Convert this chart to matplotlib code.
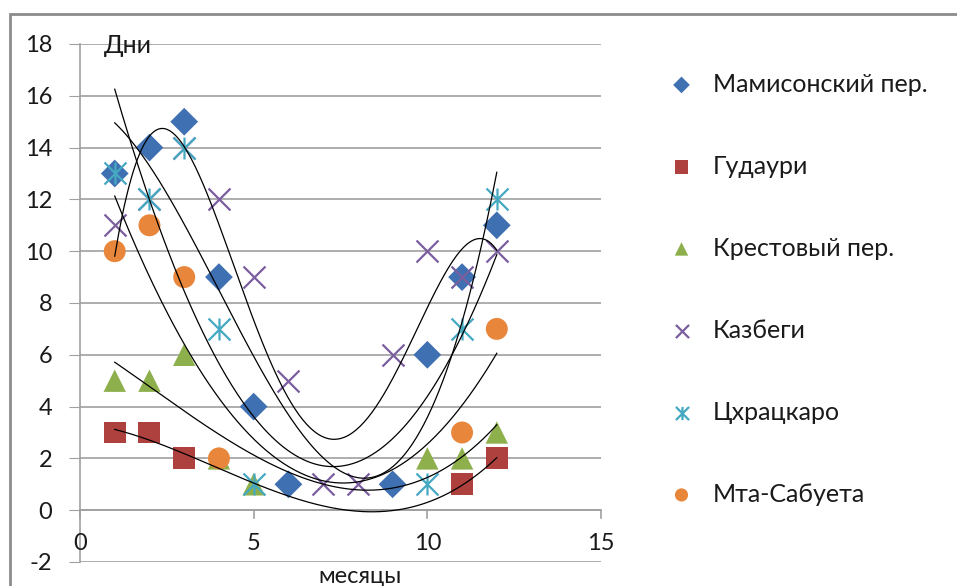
import matplotlib.pyplot as plt
import numpy as np
from matplotlib.patches import Rectangle
from matplotlib.path import Path

plt.rcParams['font.family'] = ['Lato', 'DejaVu Sans']
plt.rcParams['axes.unicode_minus'] = False

# данные: дни по месяцам
mamison_x = [1, 2, 3, 4, 5, 6, 9, 10, 11, 12]
mamison_y = [13, 14, 15, 9, 4, 1, 1, 6, 9, 11]
gudauri_x = [1, 2, 3, 11, 12]
gudauri_y = [3, 3, 2, 1, 2]
krest_x = [1, 2, 3, 4, 5, 10, 11, 12]
krest_y = [5, 5, 6, 2, 1, 2, 2, 3]
kazbegi_x = [1, 2, 3, 4, 5, 6, 7, 8, 9, 10, 11, 12]
kazbegi_y = [11, 12, 14, 12, 9, 5, 1, 1, 6, 10, 9, 10]
tshr_x = [1, 2, 3, 4, 5, 10, 11, 12]
tshr_y = [13, 12, 14, 7, 1, 1, 7, 12]
mta_x = [1, 2, 3, 4, 11, 12]
mta_y = [10, 11, 9, 2, 3, 7]

names = ['Мамисонский пер.', 'Гудаури', 'Крестовый пер.', 'Казбеги', 'Цхрацкаро', 'Мта-Сабуета']
xs = [mamison_x, gudauri_x, krest_x, kazbegi_x, tshr_x, mta_x]
ys = [mamison_y, gudauri_y, krest_y, kazbegi_y, tshr_y, mta_y]
# степень полиномиальной линии тренда для каждого ряда
orders = [3, 3, 3, 4, 2, 2]

colors = ['#3F70B2', '#AE413E', '#8DB04C', '#7A5E9E', '#45A9C2', '#E8873C']

# звёздочка как в Excel: X + вертикальная черта
star = Path([(-1, -1), (1, 1), (-1, 1), (1, -1), (0, -1), (0, 1)],
            [Path.MOVETO, Path.LINETO, Path.MOVETO, Path.LINETO, Path.MOVETO, Path.LINETO])
markers = ['D', 's', '^', 'x', star, 'o']
sizes = [200, 250, 260, 250, 250, 250]

fig = plt.figure(figsize=(9.57, 5.86), dpi=100)
ax = fig.add_axes([80/957, 1-562/586, (601-80)/957, (562-44)/586])

for i in range(6):
    if i in (3, 4):
        ax.scatter(xs[i], ys[i], marker=markers[i], s=sizes[i], color=colors[i], linewidths=1.6, label=names[i], zorder=3)
    else:
        ax.scatter(xs[i], ys[i], marker=markers[i], s=sizes[i], color=colors[i], edgecolors='none', label=names[i], zorder=3)

# полиномиальные линии тренда
for i in range(6):
    p = np.polyfit(xs[i], ys[i], orders[i])
    t = np.linspace(min(xs[i]), max(xs[i]), 200)
    ax.plot(t, np.polyval(p, t), color='black', lw=0.9, zorder=4)

ax.set_xlim(0, 15)
ax.set_ylim(-2, 18)
ax.set_yticks(np.arange(-2, 19, 2))
ax.set_xticks([0, 5, 10, 15])
ax.grid(axis='y', color='#A0A0A0', lw=1.2)
ax.set_axisbelow(True)
for s in ['top', 'right', 'bottom']:
    ax.spines[s].set_visible(False)
ax.spines['left'].set_color('#A0A0A0')
ax.spines['left'].set_linewidth(1.2)
ax.axhline(0, color='#A0A0A0', lw=1.2, zorder=1)
ax.tick_params(axis='y', length=8, color='#A0A0A0', labelsize=17, pad=12, labelcolor='#1A1A1A')
ax.tick_params(axis='x', length=0)
ax.set_xticklabels([])
for v in [0, 5, 10, 15]:
    ax.plot([v, v], [0, -0.3], color='#A0A0A0', lw=1.2, clip_on=False)
    ax.text(v, -1.3, str(v), ha='center', va='center', fontsize=17, color='#1A1A1A')

ax.text(0.7, 17.95, 'Дни', fontsize=18, va='center', ha='left', color='#1A1A1A')
fig.text(360/957, 3/586, 'месяцы', fontsize=17, ha='center', va='baseline', color='#1A1A1A')

fig.legend(loc='upper left', bbox_to_anchor=(644/957, 1-60/586), frameon=False, borderpad=0,
           fontsize=18, labelspacing=2.36, handlelength=2.0, handletextpad=0.25, markerscale=0.6,
           labelcolor='#1A1A1A')

fig.patches.append(Rectangle((10/957, -0.1), 2, 1-14/586+0.1, transform=fig.transFigure,
                             fill=False, edgecolor='#8C8C8C', lw=2))

fig.savefig('out.png', dpi=100)
